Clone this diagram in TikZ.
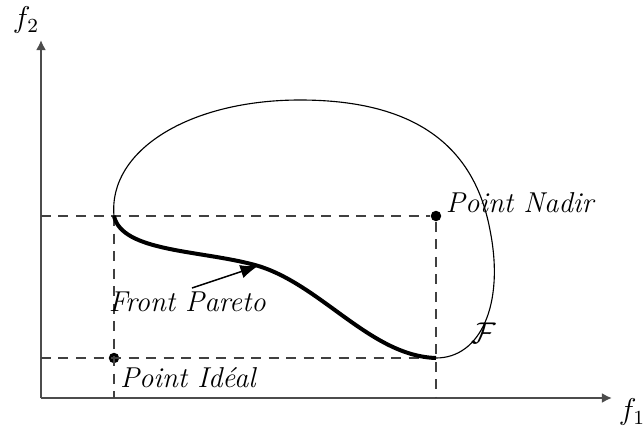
\documentclass[tikz,border=0pt]{standalone}
\usetikzlibrary{arrows.meta}
\begin{document}
\begin{tikzpicture}[x=0.4pt,y=-0.4pt,
  every node/.style={font=\fontsize{11.5}{14}\selectfont},
  axis/.style={draw=black!70,line width=0.9pt,-{Latex[length=4pt,width=4pt]}},
  guide/.style={draw=black!75,line width=0.6pt,dash pattern=on 4pt off 3pt},
  dot/.style={circle,fill=black,inner sep=0pt,minimum size=4.2pt},
  lbl/.style={inner sep=1pt}]
\useasboundingbox (0,0) rectangle (643,428);
% axes
\coordinate (O) at (41,398);
\coordinate (Ytop) at (41,40);
\coordinate (Xend) at (612,398);
\draw[axis] (O) -- (Ytop);
\draw[axis] (O) -- (Xend);
\node[lbl] (f2) at (26,20) {$f_2$};
\node[lbl] (f1) at (632,412) {$f_1$};
% key points
\coordinate (A) at (114,216);
\coordinate (B) at (436,358);
\node[dot] (nadir) at (436,216) {};
\node[dot] (ideal) at (114,358) {};
\coordinate (yA) at (41,216);
\coordinate (yB) at (41,358);
\coordinate (xA) at (114,398);
\coordinate (xB) at (436,398);
% guides
\draw[guide] (yA) -- (nadir);
\draw[guide] (yB) -- (B);
\draw[guide] (A) -- (xA);
\draw[guide] (nadir) -- (xB);
% region
\draw[line width=0.45pt] (A) .. controls (108,150) and (190,100) .. (300,100)
  .. controls (420,100) and (475,150) .. (490,230)
  .. controls (505,305) and (480,358) .. (B);
% pareto front
\draw[line width=1.6pt] (A) .. controls (122,252) and (200,250) .. (255,265)
  .. controls (320,283) and (370,356) .. (B);
% labels
\node[lbl,anchor=west] (nadirlbl) at (443,203) {\textit{Point Nadir}};
\node[lbl,anchor=west] (ideallbl) at (117,378) {\textit{Point Idéal}};
\node[lbl,anchor=west] (frontlbl) at (106,302) {\textit{Front Pareto}};
\node[lbl] (Flbl) at (484,333) {$\mathcal{F}$};
\coordinate (arrtip) at (258,266);
\coordinate (arrstart) at (192,288);
\draw[line width=0.6pt,-{Latex[length=7pt,width=5.5pt]}] (arrstart) -- (arrtip);
\end{tikzpicture}
\end{document}
